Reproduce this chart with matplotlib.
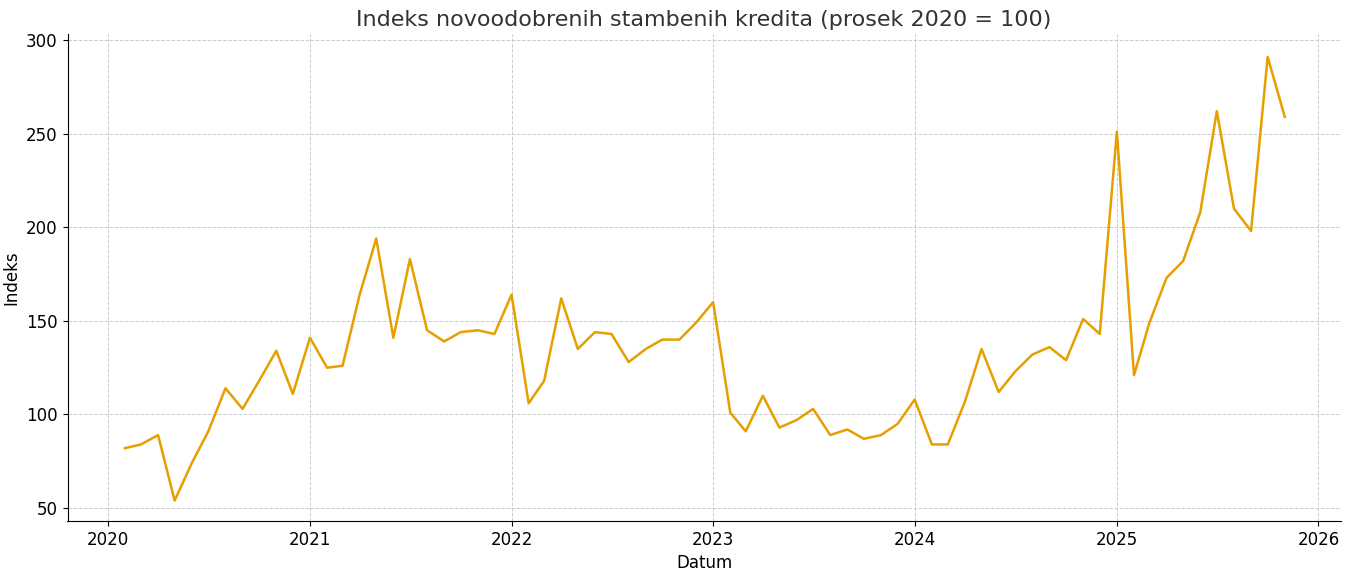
import matplotlib
matplotlib.use("Agg")
import matplotlib.pyplot as plt
import pandas as pd

dates = pd.date_range("2020-02-01", "2025-11-01", freq="MS")
values = [82, 84, 89, 54, 74, 91, 114, 103, 118, 134, 111,
          141, 125, 126, 164, 194, 141, 183, 145, 139, 144, 145, 143,
          164, 106, 118, 162, 135, 144, 143, 128, 135, 140, 140, 149,
          160, 101, 91, 110, 93, 97, 103, 89, 92, 87, 89, 95,
          108, 84, 84, 107, 135, 112, 123, 132, 136, 129, 151, 143,
          251, 121, 149, 173, 182, 208, 262, 210, 198, 291, 259]

fig, ax = plt.subplots(figsize=(13.5, 5.74), dpi=100)
ax.plot(dates, values, color="#E69F00", lw=1.8)
ax.set_title("Indeks novoodobrenih stambenih kredita (prosek 2020 = 100)", fontsize=16, color="#333333")
ax.set_xlabel("Datum", fontsize=12)
ax.set_ylabel("Indeks", fontsize=12)
ax.set_xlim(pd.Timestamp("2019-10-20"), pd.Timestamp("2026-02-10"))
ax.set_ylim(43, 303)
ax.set_yticks([50, 100, 150, 200, 250, 300])
ax.set_xticks([pd.Timestamp(f"{y}-01-01") for y in range(2020, 2027)])
ax.set_xticklabels([str(y) for y in range(2020, 2027)])
ax.tick_params(labelsize=12)
ax.grid(True, ls="--", lw=0.7, color="#cccccc")
for s in ["top", "right"]:
    ax.spines[s].set_visible(False)
fig.subplots_adjust(left=0.05, right=0.993, top=0.94, bottom=0.092)
fig.savefig("out.png")
